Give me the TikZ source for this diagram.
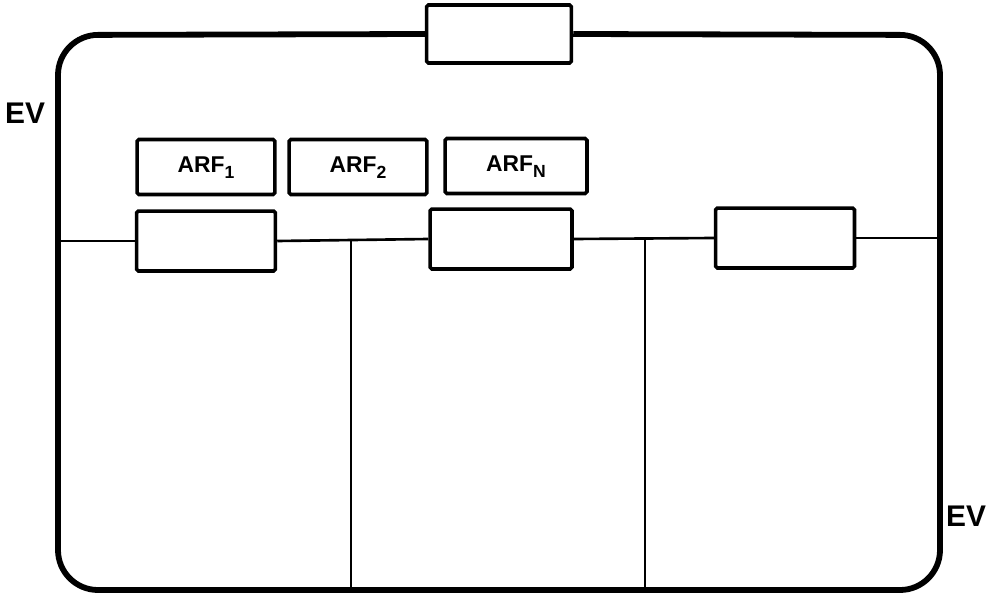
\documentclass[tikz,border=0pt]{standalone}
\usepackage{fontspec}
\setsansfont{Liberation Sans}
\usetikzlibrary{positioning}
\tikzset{
  frame/.style={draw=black, line width=3.3pt, rounded corners=0.8cm},
  wire/.style={draw=black, line width=1.5pt},
  unit/.style={draw=black, line width=2pt, fill=white, rounded corners=1pt,
    minimum width=#1, minimum height=1.2cm, inner sep=0pt},
  unit/.default=2.78cm,
  arf/.style={draw=black, line width=2pt, fill=white, rounded corners=1pt,
    minimum width=2.76cm, minimum height=1.1cm, inner sep=0pt,
    text height=2.2ex, text depth=0.8ex,
    font=\sffamily\bfseries\fontsize{13}{15}\selectfont},
  evlabel/.style={font=\sffamily\bfseries\fontsize{17}{19}\selectfont, inner sep=0pt},
}
\newcommand{\arfidx}[1]{\raisebox{-0.55ex}{\fontsize{10}{12}\selectfont #1}}

\begin{document}
\begin{tikzpicture}[x=0.02cm, y=-0.02cm]
\useasboundingbox (0,0) rectangle (987,598);

% corners of the outer loop
\coordinate (tl) at (58,35);
\coordinate (br) at (940,590);

\node[unit=2.9cm, minimum height=1.16cm] (top) at (499,34) {};

\node[arf] (arf1) at (206,167) {ARF\arfidx{1}};
\node[arf] (arf2) at (358,167) {ARF\arfidx{2}};
\node[arf, minimum width=2.84cm] (arfn) at (516,166) {ARF\arfidx{N}};

\node[unit] (m1) at (206,241) {};
\node[unit, minimum width=2.84cm] (m2) at (501,239) {};
\node[unit] (m3) at (785,238) {};

\coordinate (ml) at (58,241);
\coordinate (mr) at (940,238);
\coordinate (j1) at (351,241);
\coordinate (j2) at (645,239);

\draw[frame] (top.west) -- (tl) -- (tl |- br) -- (br) -- (br |- tl) -- (top.east);

\draw[wire] (ml) -- (m1.west);
\draw[wire] (m1.east) -- (m2.west);
\draw[wire] (m2.east) -- (m3.west);
\draw[wire] (m3.east) -- (mr);
\draw[wire] (j1) -- (j1 |- br);
\draw[wire] (j2) -- (j2 |- br);

\node[evlabel] (evin) at (25,113) {EV};
\node[evlabel] (evout) at (966,516) {EV};

\end{tikzpicture}
\end{document}
